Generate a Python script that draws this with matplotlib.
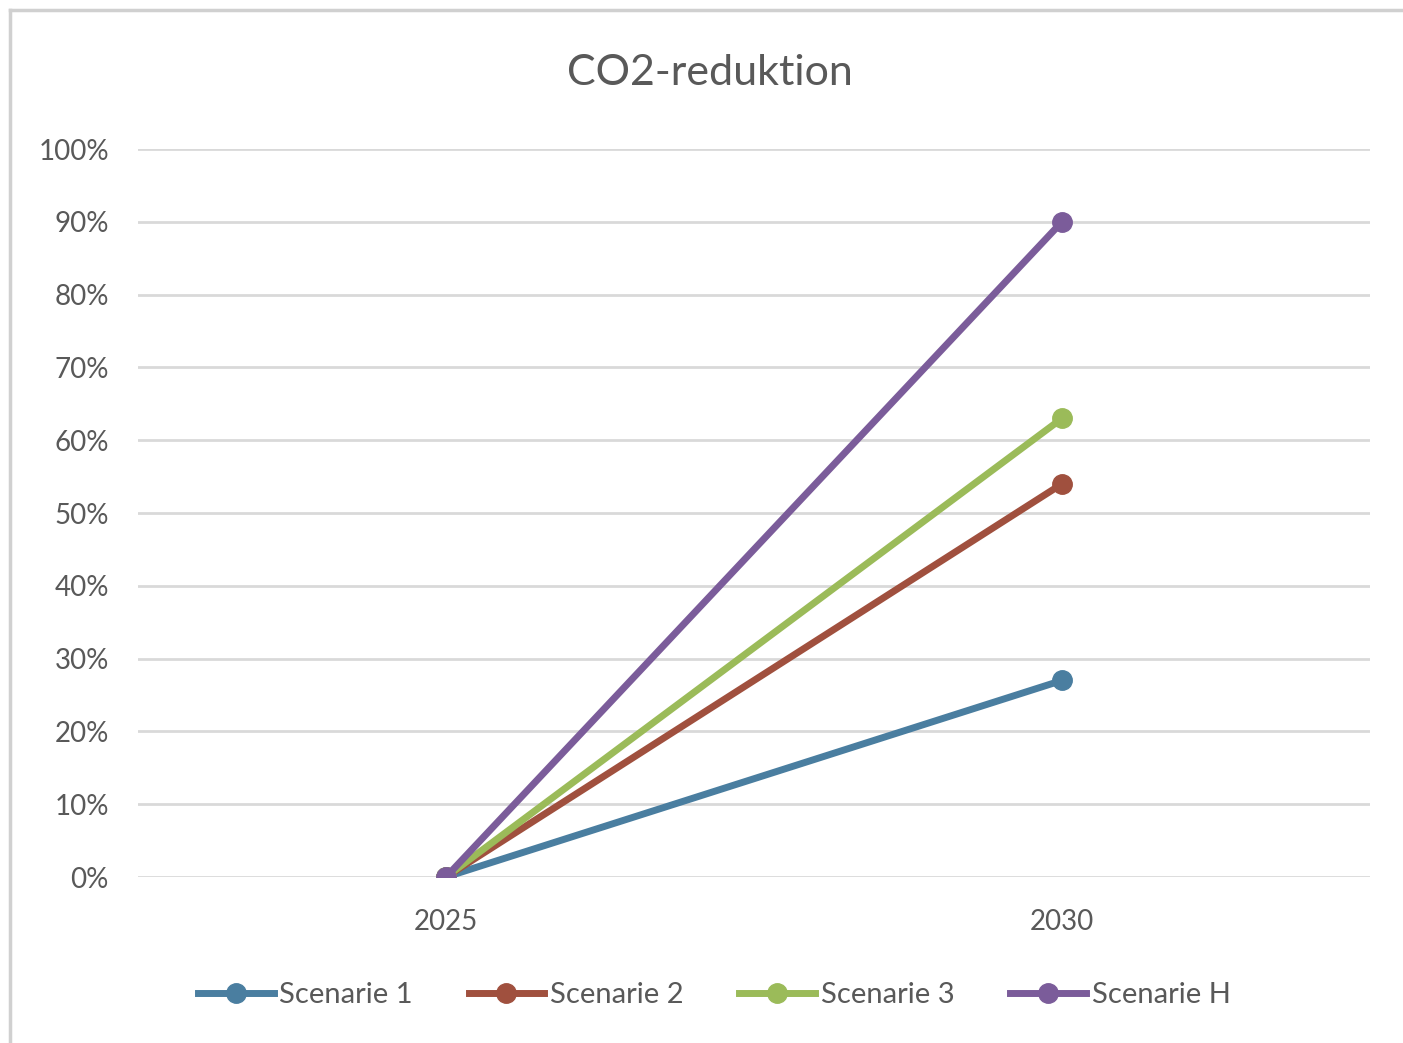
import matplotlib.pyplot as plt
from matplotlib.lines import Line2D

plt.rcParams['font.family'] = ['Lato', 'DejaVu Sans']

years = ['2025', '2030']
series_names = ['Scenarie 1', 'Scenarie 2', 'Scenarie 3', 'Scenarie H']
scenarie_1 = [0.00, 0.27]
scenarie_2 = [0.00, 0.54]
scenarie_3 = [0.00, 0.63]
scenarie_h = [0.00, 0.90]
colors = ['#4a7ea0', '#a0503e', '#9bbb59', '#7b5c9a']
y_ticks = [i / 10 for i in range(11)]

fig = plt.figure(figsize=(14.03, 10.43), dpi=100)
ax = fig.add_axes([138 / 1403, 166 / 1043, 1232 / 1403, 728 / 1043])

x = list(range(len(years)))
for name, vals, c in zip(series_names, [scenarie_1, scenarie_2, scenarie_3, scenarie_h], colors):
    ax.plot(x, vals, color=c, lw=5, marker='o', ms=14, label=name,
            solid_capstyle='round', zorder=3)

ax.set_xlim(-0.5, 1.5)
ax.set_ylim(0, 1)
ax.set_xticks(x)
ax.set_xticklabels(years)
ax.set_yticks(y_ticks)
ax.set_yticklabels([f'{int(round(t * 100))}%' for t in y_ticks])
ax.tick_params(length=0, labelsize=20, colors='#595959')
ax.tick_params(axis='y', pad=21)
ax.tick_params(axis='x', pad=23)
ax.grid(axis='y', color='#d9d9d9', lw=2)
ax.set_axisbelow(True)
for s in ax.spines.values():
    s.set_visible(False)

fig.text(0.506, 1 - 73 / 1043, 'CO2-reduktion', ha='center', va='center', fontsize=31, color='#595959')

handles = [Line2D([0], [0], color=c, lw=5, marker='o', ms=14) for c in colors]
fig.legend(handles, series_names, loc='center', bbox_to_anchor=(0.509, 1 - 995 / 1043),
           ncol=4, frameon=False, fontsize=21, labelcolor='#595959',
           handlelength=2.6, handletextpad=0.2, columnspacing=1.9)

# outer chart border
fig.add_artist(Line2D([10 / 1403, 1], [1 - 10 / 1043, 1 - 10 / 1043], color='#d0d0d0', lw=2.5,
                      transform=fig.transFigure))
fig.add_artist(Line2D([10 / 1403, 10 / 1403], [0, 1 - 10 / 1043], color='#d0d0d0', lw=2.5,
                      transform=fig.transFigure))

fig.savefig('out.png', dpi=100, facecolor='white')
